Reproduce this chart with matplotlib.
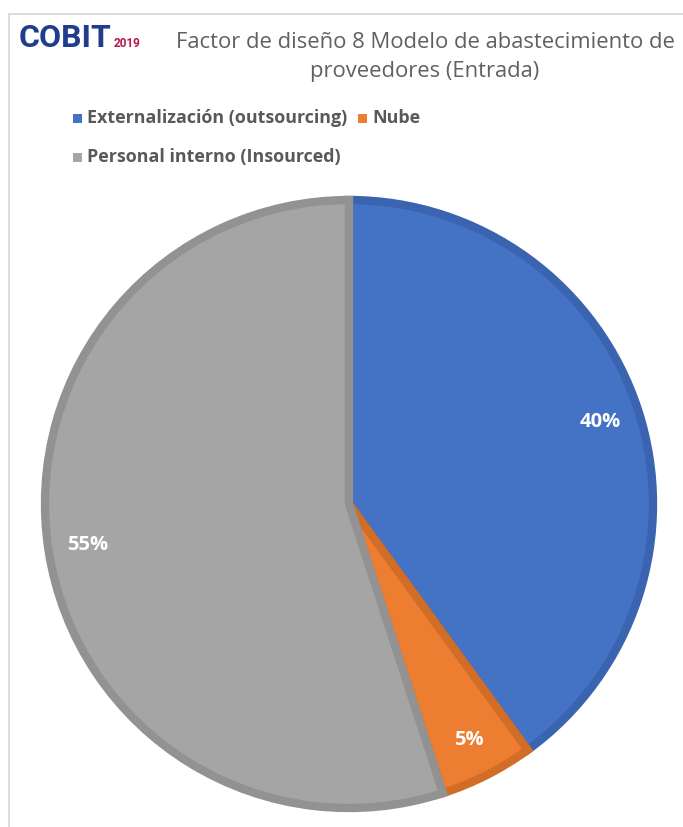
import matplotlib.pyplot as plt
from matplotlib.lines import Line2D
from matplotlib.patches import Rectangle

plt.rcParams["font.family"] = ["Open Sans", "DejaVu Sans"]

labels = ["Externalización (outsourcing)", "Nube", "Personal interno (Insourced)"]
shares = [40, 5, 55]
fills = ["#4472C4", "#ED7D31", "#A5A5A5"]
edges = ["#3A64B0", "#D26D28", "#929292"]
title = "Factor de diseño 8 Modelo de abastecimiento de\nproveedores (Entrada)"

W, H = 683, 827
fig = plt.figure(figsize=(W / 100, H / 100), dpi=100)


def px(x, y):
    # pixel position (from top-left) to figure fraction
    return x / W, 1 - y / H


# chart frame, open at the right and bottom
x0, y0 = px(9, 14)
fig.add_artist(Line2D([x0, 1], [y0, y0], color="#D9D9D9", lw=1.3))
fig.add_artist(Line2D([x0, x0], [0, y0], color="#D9D9D9", lw=1.3))

# logo
fig.text(*px(19, 38), "COBIT", color="#1F3D8C", fontsize=23, fontweight="bold",
         family="Roboto", va="center", ha="left")
fig.text(*px(114, 47), "2019", color="#B5174A", fontsize=8.5, fontweight="bold",
         family="Roboto", va="baseline", ha="left")

fig.text(*px(425, 57), title, color="#606060", fontsize=15.8, ha="center",
         va="center", multialignment="center", linespacing=1.45)

# legend, laid out as a flowing row like the spreadsheet one
renderer = fig.canvas.get_renderer()
rows = [[0, 1], [2]]
row_y = [118, 157]
for row, yy in zip(rows, row_y):
    xx = 73
    for i in row:
        sx, sy = px(xx, yy + 5)
        fig.add_artist(Rectangle((sx, sy), 9 / W, 9 / H, transform=fig.transFigure,
                                 facecolor=fills[i], edgecolor="none"))
        t = fig.text(*px(xx + 14, yy), labels[i], color="#595959", fontsize=12.9,
                     fontweight="bold", va="center", ha="left")
        bb = t.get_window_extent(renderer)
        xx = bb.x1 + 11

ax = fig.add_axes([45 / W, 1 - 808 / H, 608 / W, 608 / H])
wedges, texts, autotexts = ax.pie(
    shares, colors=fills, startangle=90, counterclock=False, radius=1,
    autopct=lambda p: f"{p:.0f}%", pctdistance=0.87,
)
for w, ec in zip(wedges, edges):
    w.set_edgecolor(ec)
    w.set_linewidth(6)
    w.set_clip_path(w)
for t in autotexts:
    t.set_color("white")
    t.set_fontsize(14.5)
    t.set_fontweight("bold")
ax.set_xlim(-1, 1)
ax.set_ylim(-1, 1)
ax.set_aspect("equal")

fig.savefig("out.png", dpi=100, facecolor="white")
